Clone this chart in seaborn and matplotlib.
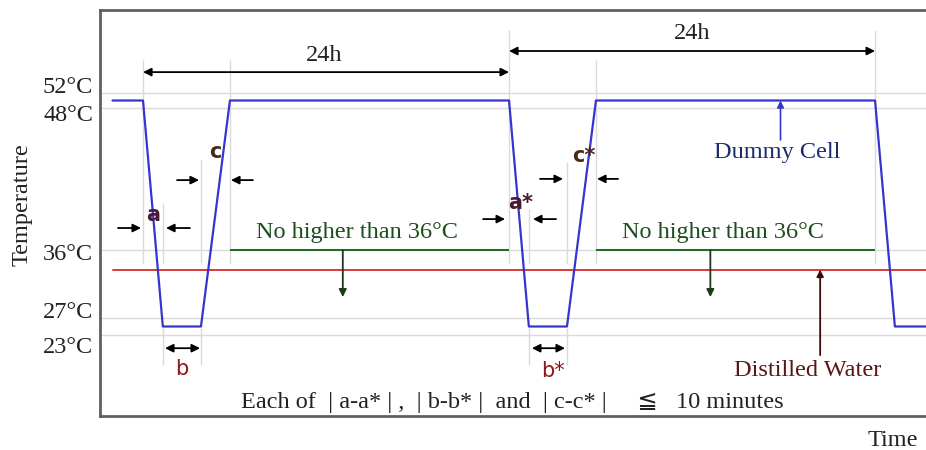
import numpy as np
import matplotlib
matplotlib.use("Agg")
import matplotlib.pyplot as plt
import matplotlib.transforms as mtransforms
import seaborn as sns

# ------------------------------
# DATA  (time in hours, temperature in degC)
# ------------------------------
cell_time = [-2.0, 0.0, 1.3, 3.8, 5.7, 24.0, 25.3, 27.8, 29.7, 48.0, 49.3, 52.0]
cell_temp = [50, 50, 25, 25, 50, 50, 25, 25, 50, 50, 25, 25]

water_time = [-2.0, 52.0]
water_temp = [33.4, 33.4]

limit_temp = 36
limit_start = [5.7, 29.7]
limit_end = [24.0, 48.0]

temp_ticks = [52, 48, 36, 27, 23]
tick_labels = ["52°C", "48°C", "36°C", "27°C", "23°C"]

# schematic (non-linear) temperature axis: temperature -> height in px
temp_knots = [4, 23, 27, 36, 48, 52, 74]
pos_knots = [0, 81, 98, 166, 308, 323, 406]


def fwd(v):
    return np.interp(v, temp_knots, pos_knots)


def inv(p):
    return np.interp(p, pos_knots, temp_knots)


# ------------------------------
# STYLE
# ------------------------------
sns.set_theme(style="white")
plt.rcParams["font.family"] = ["Liberation Serif", "DejaVu Sans"]

BLUE = "#3535d0"
RED = "#d83a3a"
GREEN = "#1e6b1e"
GRID = "#dadada"
SERIF = ["Liberation Serif", "DejaVu Sans"]
FS = 17.5

fig = plt.figure(figsize=(9.26, 4.5), dpi=100)
ax = fig.add_axes([100 / 926, 34 / 450, 826 / 926, 406 / 450])

# ------------------------------
# LINES
# ------------------------------
sns.lineplot(x=water_time, y=water_temp, ax=ax, color=RED, lw=1.4)
sns.lineplot(x=cell_time, y=cell_temp, ax=ax, color=BLUE, lw=1.6)
ax.hlines([limit_temp] * 2, limit_start, limit_end, color=GREEN, lw=1.4)

ax.set_yscale("function", functions=(fwd, inv))
ax.set_ylim(4, 74)
ax.set_xlim(-2.82, 51.34)

ax.set_yticks(temp_ticks)
ax.set_yticklabels(tick_labels, fontsize=FS, family=SERIF, color="#222222")
ax.set_xticks([])
ax.tick_params(axis="y", length=0, pad=5)
ax.yaxis.grid(True, color=GRID, lw=1)
ax.set_axisbelow(True)

# spread the crowded labels a little, like the original sketch
label_shift = [-8, 5, 2, -8, 10]
for lab, dy in zip(ax.get_yticklabels(), label_shift):
    lab.set_transform(lab.get_transform() +
                      mtransforms.ScaledTranslation(0, -dy / 100, fig.dpi_scale_trans))

for side in ["left", "top", "bottom"]:
    ax.spines[side].set_color("#606060")
    ax.spines[side].set_linewidth(2)
ax.spines["right"].set_visible(False)

trans = ax.get_xaxis_transform()

# ------------------------------
# GUIDE LINES
# ------------------------------
guides = [(0.0, 0.377, 0.877), (5.7, 0.377, 0.877), (24.0, 0.377, 0.951),
          (29.7, 0.377, 0.877), (48.0, 0.377, 0.951),
          (1.3, 0.377, 0.525), (3.8, 0.377, 0.631),
          (25.3, 0.377, 0.510), (27.8, 0.377, 0.626),
          (1.3, 0.126, 0.217), (3.8, 0.126, 0.217),
          (25.3, 0.126, 0.217), (27.8, 0.126, 0.217)]
for gx, g0, g1 in guides:
    ax.vlines(gx, g0, g1, transform=trans, color=GRID, lw=1, zorder=0)


def harrow(x0, x1, y, style="-|>", color="black"):
    ax.annotate("", xy=(x1, y), xytext=(x0, y), xycoords=trans, textcoords=trans,
                arrowprops=dict(arrowstyle=style, color=color, lw=1.3,
                                shrinkA=0, shrinkB=0, mutation_scale=12))


# 24h spans
harrow(24.0, 0.0, 0.847, "<|-|>")
harrow(24.0, 48.0, 0.899, "<|-|>")
ax.text(11.9, 0.889, "24h", transform=trans, ha="center", va="center", fontsize=FS, color="#222")
ax.text(36.0, 0.943, "24h", transform=trans, ha="center", va="center", fontsize=FS, color="#222")

# a / c / a* / c* markers
harrow(-1.64, -0.13, 0.463)
harrow(3.08, 1.51, 0.463)
harrow(2.23, 3.67, 0.581)
harrow(7.21, 5.77, 0.581)
harrow(22.3, 23.74, 0.485)
harrow(27.08, 25.57, 0.485)
harrow(26.03, 27.54, 0.584)
harrow(31.15, 29.77, 0.584)

letter = dict(transform=trans, ha="center", va="center", fontsize=15,
              fontweight="bold", family="DejaVu Sans")
ax.text(0.66, 0.495, "a", color="#4a1a30", **letter)
ax.text(4.72, 0.650, "c", color="#4a2a14", **letter)
ax.text(24.75, 0.525, "a*", color="#4a1a30", **letter)
ax.text(28.9, 0.640, "c*", color="#4a2a14", **letter)

# b / b*
harrow(1.44, 3.74, 0.167, "<|-|>")
harrow(25.5, 27.67, 0.167, "<|-|>")
ax.text(2.56, 0.115, "b", transform=trans, ha="center", va="center", fontsize=15,
        family="DejaVu Sans", color="#8b1a1a")
ax.text(26.9, 0.112, "b*", transform=trans, ha="center", va="center", fontsize=15,
        family="DejaVu Sans", color="#8b1a1a")

# 36 degC limit
for gx, tx in [(13.1, 14.0), (37.2, 38.0)]:
    ax.annotate("", xy=(gx, 0.293), xytext=(gx, limit_temp), xycoords=trans,
                textcoords="data",
                arrowprops=dict(arrowstyle="-|>", color="#1a3a1a", lw=1.3,
                                shrinkA=0, shrinkB=0, mutation_scale=11))
    ax.text(tx, 0.453, "No higher than 36°C", transform=trans, ha="center",
            va="center", fontsize=FS, color="#1d4d1d")

# Dummy Cell
ax.annotate("", xy=(41.8, cell_temp[-3]), xytext=(41.8, 0.680), xycoords="data",
            textcoords=trans,
            arrowprops=dict(arrowstyle="-|>", color=BLUE, lw=1.2, shrinkA=0,
                            shrinkB=0, mutation_scale=10))
ax.text(41.6, 0.650, "Dummy Cell", transform=trans, ha="center", va="center",
        fontsize=FS, color="#1c2a70")

# Distilled Water
ax.annotate("", xy=(44.4, water_temp[0]), xytext=(44.4, 0.150), xycoords="data",
            textcoords=trans,
            arrowprops=dict(arrowstyle="-|>", color="#3a0a0a", lw=1.3, shrinkA=0,
                            shrinkB=0, mutation_scale=10))
ax.text(43.6, 0.113, "Distilled Water", transform=trans, ha="center",
        va="center", fontsize=FS, color="#5c1414")

# rule text
ax.text(24.2, 0.034, "Each of  | a-a* | ,  | b-b* |  and  | c-c* |     ≦   10 minutes",
        transform=trans, ha="center", va="center", fontsize=FS, color="#222",
        family=SERIF)

# axis titles
fig.text(22 / 926, 1 - 205 / 450, "Temperature", rotation=90, ha="center",
         va="center", fontsize=FS, color="#222")
fig.text(893 / 926, 1 - 440 / 450, "Time", ha="center", va="center",
         fontsize=FS, color="#222")

fig.savefig("out.png", dpi=100)
